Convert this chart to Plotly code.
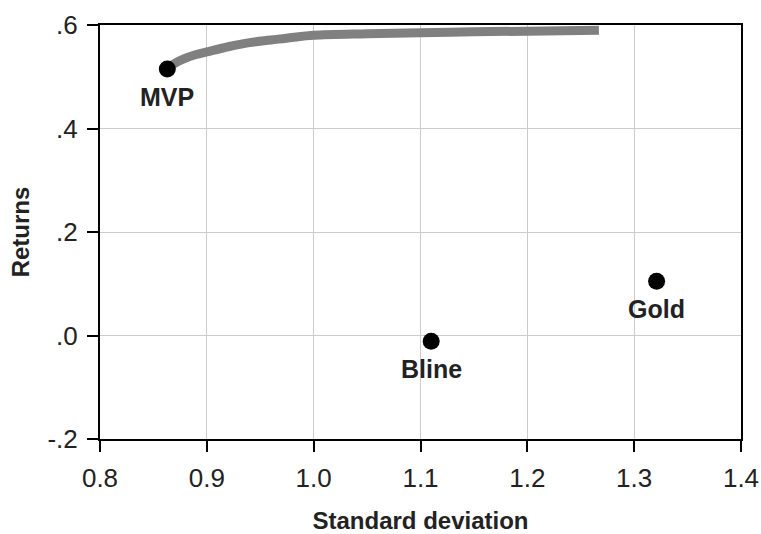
import plotly.graph_objects as go

# Efficient frontier (standard deviation, returns)
frontier_sd = [0.862, 0.870, 0.880, 0.890, 0.900, 0.920, 0.940, 0.960, 0.980, 1.000,
               1.050, 1.100, 1.150, 1.200, 1.267]
frontier_ret = [0.515, 0.526, 0.536, 0.543, 0.548, 0.558, 0.566, 0.571, 0.576, 0.580,
                0.583, 0.585, 0.587, 0.588, 0.590]

# Labelled points
point_names = ["MVP", "Bline", "Gold"]
point_sd = [0.863, 1.110, 1.321]
point_ret = [0.515, -0.011, 0.105]

y_tickvals = [-0.2, 0.0, 0.2, 0.4, 0.6]
y_ticktext = ["-.2", ".0", ".2", ".4", ".6"]
x_tickvals = [0.8, 0.9, 1.0, 1.1, 1.2, 1.3, 1.4]
x_ticktext = ["0.8", "0.9", "1.0", "1.1", "1.2", "1.3", "1.4"]

FONT = "Liberation Sans, Arial, sans-serif"
TXT = "#222222"

fig = go.Figure()
fig.add_trace(go.Scatter(x=frontier_sd, y=frontier_ret, mode="lines",
                         line=dict(color="#808080", width=9, shape="spline"),
                         hoverinfo="skip", showlegend=False))
fig.add_trace(go.Scatter(x=point_sd, y=point_ret, mode="markers",
                         marker=dict(color="black", size=17),
                         showlegend=False))

for name, sx, sy in zip(point_names, point_sd, point_ret):
    fig.add_annotation(x=sx, y=sy, text="<b>" + name + "</b>", showarrow=False,
                       yshift=-28, font=dict(family=FONT, size=25, color=TXT))

font_ticks = dict(family=FONT, size=26, color=TXT)

fig.update_layout(
    width=761, height=534,
    margin=dict(l=100, r=20, t=25, b=95),
    paper_bgcolor="white", plot_bgcolor="white",
    showlegend=False,
    xaxis=dict(range=[0.8, 1.4], tickvals=x_tickvals, ticktext=x_ticktext,
               showline=True, linecolor="black", linewidth=2, mirror=True,
               showgrid=True, gridcolor="#cccccc", gridwidth=1,
               ticks="outside", ticklen=11, tickcolor="black", tickwidth=2,
               ticklabelstandoff=4, automargin=False,
               tickfont=font_ticks, zeroline=False,
               title=dict(text="<b>Standard deviation</b>", standoff=20,
                          font=dict(family=FONT, size=24, color=TXT))),
    yaxis=dict(range=[-0.2, 0.6], tickvals=y_tickvals, ticktext=y_ticktext,
               showline=True, linecolor="black", linewidth=2, mirror=True,
               showgrid=True, gridcolor="#cccccc", gridwidth=1,
               ticks="outside", ticklen=11, tickcolor="black", tickwidth=2,
               ticklabelstandoff=4, automargin=False,
               tickfont=font_ticks, zeroline=False,
               title=dict(text="<b>Returns</b>", standoff=11,
                          font=dict(family=FONT, size=24, color=TXT))),
)

fig.write_html("out.html", config={"displayModeBar": False},
               post_script="document.body.style.margin='0';")
